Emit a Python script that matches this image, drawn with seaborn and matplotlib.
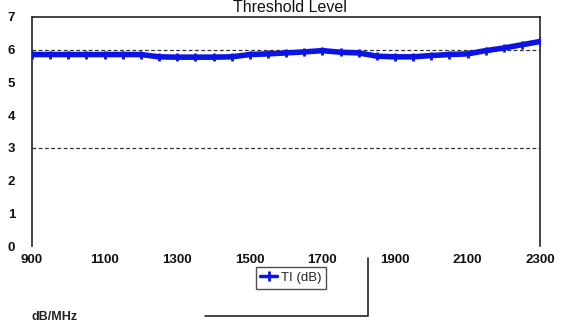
import matplotlib
matplotlib.use("Agg")
import matplotlib.pyplot as plt
from matplotlib.lines import Line2D
import seaborn as sns
import pandas as pd

# Threshold level per frequency (MHz), in dB
freq_mhz = [900, 950, 1000, 1050, 1100, 1150, 1200, 1250, 1300, 1350,
            1400, 1450, 1500, 1550, 1600, 1650, 1700, 1750, 1800, 1850,
            1900, 1950, 2000, 2050, 2100, 2150, 2200, 2250, 2300]
ti_db = [5.85, 5.85, 5.85, 5.85, 5.85, 5.85, 5.85, 5.78, 5.77, 5.77,
         5.77, 5.78, 5.85, 5.87, 5.90, 5.93, 5.97, 5.92, 5.90, 5.80,
         5.78, 5.78, 5.82, 5.85, 5.87, 5.97, 6.05, 6.15, 6.25]
x_ticks = [900, 1100, 1300, 1500, 1700, 1900, 2100, 2300]
y_ticks = [0, 1, 2, 3, 4, 5, 6, 7]
grid_levels = [3, 6]

LINE_BLUE = "#0a14e6"

df = pd.DataFrame({"freq": freq_mhz, "TI (dB)": ti_db})

sns.set_style("white")
plt.rcParams["font.family"] = ["Liberation Sans", "DejaVu Sans"]

fig = plt.figure(figsize=(5.66, 3.25), dpi=100)
ax = fig.add_axes([0.0565, 0.243, 0.898, 0.705])

for lvl in grid_levels:
    ax.axhline(lvl, color="#333333", linestyle=(0, (3, 2)), linewidth=0.9, zorder=1)

sns.lineplot(data=df, x="freq", y="TI (dB)", ax=ax, color=LINE_BLUE,
             linewidth=4, marker="+", markersize=6, markeredgewidth=2,
             markeredgecolor=LINE_BLUE, markerfacecolor=LINE_BLUE,
             legend=False, zorder=3)

ax.set_xlim(900, 2300)
ax.set_ylim(0, 7)
ax.set_xticks(x_ticks)
ax.set_xticklabels([str(t) for t in x_ticks])
ax.set_yticks(y_ticks)
ax.set_xlabel("")
ax.set_ylabel("")
ax.tick_params(axis="both", labelsize=9.5, length=0, colors="#111111")
ax.tick_params(axis="y", pad=12)
ax.tick_params(axis="x", pad=6)
for lbl in ax.get_xticklabels() + ax.get_yticklabels():
    lbl.set_fontweight("bold")

for side in ["left", "right", "top"]:
    ax.spines[side].set_visible(True)
    ax.spines[side].set_color("#222222")
    ax.spines[side].set_linewidth(1.2)
ax.spines["bottom"].set_visible(False)

fig.text(0.512, 0.999, "Threshold Level", ha="center", va="top",
         fontsize=11.5, color="#111111")

handles = [Line2D([0], [0], color=LINE_BLUE, linewidth=2.5, marker="+",
                  markersize=7, markeredgewidth=2)]
leg = fig.legend(handles, ["TI (dB)"], loc="center",
                 bbox_to_anchor=(0.514, 0.145), frameon=True, fontsize=9.5,
                 handlelength=1.3, handletextpad=0.3, borderpad=0.35,
                 fancybox=False)
leg.get_frame().set_edgecolor("#222222")
leg.get_frame().set_linewidth(1.0)

# bracket line framing the legend area
fig.add_artist(Line2D([205 / 566, 368 / 566, 368 / 566],
                      [1 - 316 / 325, 1 - 316 / 325, 1 - 258 / 325],
                      color="#222222", linewidth=1.2))

fig.text(0.055, 0.005, "dB/MHz", ha="left", va="bottom", fontsize=9,
         fontweight="bold", color="#222222")

fig.savefig("out.png", dpi=100)
